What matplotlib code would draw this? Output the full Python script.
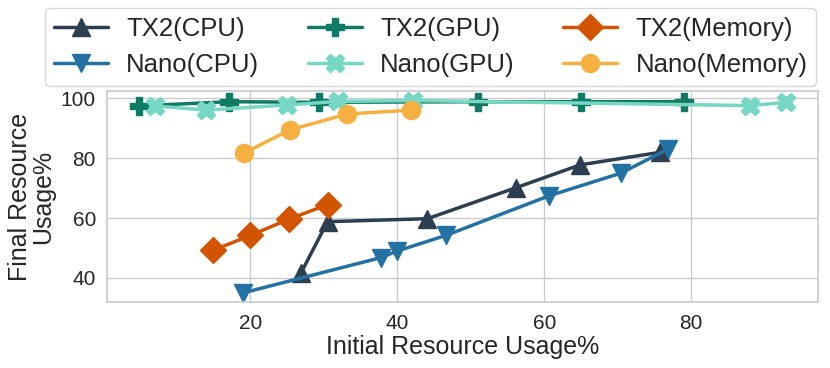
import numpy as np
import matplotlib.pyplot as plt
import seaborn as sns

sns.set_theme(style='whitegrid')
plt.rcParams['font.family'] = ['Liberation Sans', 'DejaVu Sans']

# readings
tx2_cpu_x = [26.9, 30.5, 44.1, 56.2, 64.9, 75.8]
tx2_cpu_y = [41.7, 58.8, 59.8, 70.2, 77.8, 82.0]
nano_cpu_x = [19.0, 37.8, 40.0, 46.6, 60.7, 70.4, 76.8]
nano_cpu_y = [35.0, 46.8, 49.0, 54.2, 67.5, 75.0, 83.0]
tx2_gpu_x = [4.9, 17.1, 29.4, 51.0, 65.0, 79.0]
tx2_gpu_y = [97.5, 98.9, 98.7, 98.9, 98.9, 98.9]
nano_gpu_x = [7.0, 14.0, 25.0, 31.9, 42.1, 88.0, 92.9]
nano_gpu_y = [97.5, 96.1, 97.8, 99.0, 99.3, 97.6, 98.7]
tx2_mem_x = [14.9, 20.0, 25.3, 30.5]
tx2_mem_y = [49.2, 54.2, 59.7, 64.5]
nano_mem_x = [19.1, 25.4, 33.2, 41.9]
nano_mem_y = [81.7, 89.5, 94.8, 96.1]

series = [
    ('TX2(CPU)', tx2_cpu_x, tx2_cpu_y, '^', '#2c3e50'),
    ('Nano(CPU)', nano_cpu_x, nano_cpu_y, 'v', '#2471a3'),
    ('TX2(GPU)', tx2_gpu_x, tx2_gpu_y, 'P', '#117a65'),
    ('Nano(GPU)', nano_gpu_x, nano_gpu_y, 'X', '#76d7c4'),
    ('TX2(Memory)', tx2_mem_x, tx2_mem_y, 'D', '#d35400'),
    ('Nano(Memory)', nano_mem_x, nano_mem_y, 'o', '#f5b041'),
]

fig = plt.figure(figsize=(8.3, 3.68), dpi=100)
ax = fig.add_axes([0.129, 0.178, 0.857, 0.575])

for label, x, y, m, c in series:
    ax.plot(x, y, marker=m, color=c, label=label, linewidth=2.5, markersize=13)

ax.set_xticks([20, 40, 60, 80])
ax.set_yticks([40, 60, 80, 100])
ax.tick_params(labelsize=15, pad=2)
ax.set_xlabel('Initial Resource Usage%', fontsize=18, labelpad=2)
ax.set_ylabel('Final Resource\nUsage%', fontsize=18, labelpad=4, linespacing=0.95)

fig.legend(loc='upper center', bbox_to_anchor=(0.519, 0.978), ncol=3, fontsize=18.5,
           handlelength=2.1, columnspacing=1.9, handletextpad=0.7, labelspacing=0.45,
           borderpad=0.35, borderaxespad=0)

fig.savefig('out.png', dpi=100)
